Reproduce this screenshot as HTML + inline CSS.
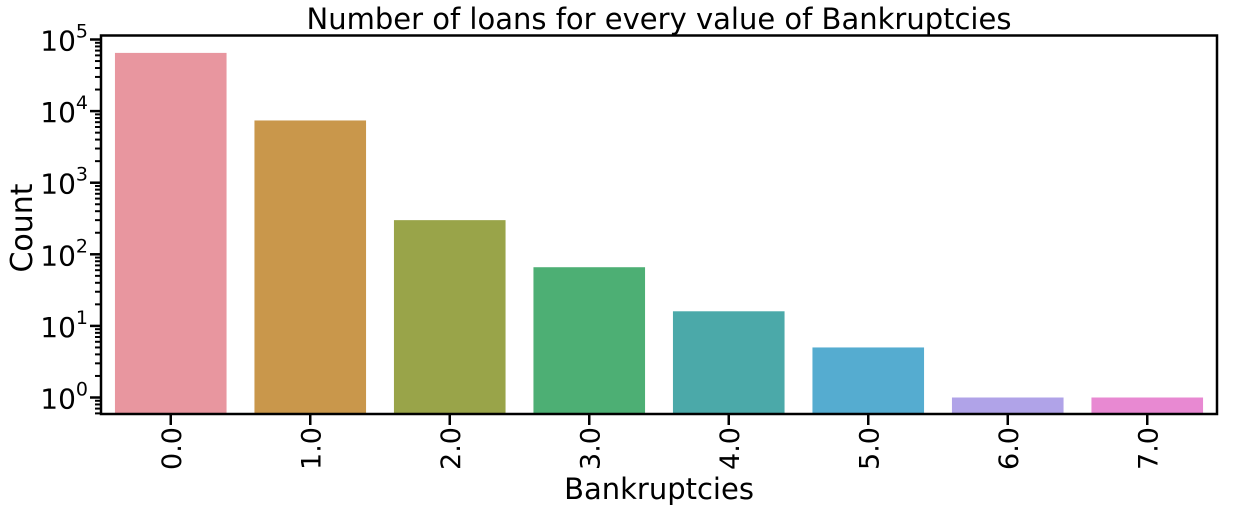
<!DOCTYPE html>
<html><head><meta charset="utf-8"><style>body{margin:0;background:#fff}svg{display:block}</style></head>
<body>
<svg id="chart" width="1236" height="512" xmlns="http://www.w3.org/2000/svg" font-family="'DejaVu Sans','Liberation Sans',sans-serif">
<text x="659" y="29" font-size="29" text-anchor="middle">Number of loans for every value of Bankruptcies</text>
<text x="659" y="499" font-size="29" text-anchor="middle">Bankruptcies</text>
<text transform="translate(32,228) rotate(-90)" font-size="30" text-anchor="middle">Count</text>
<g id="bars"></g><g id="axes"></g>
</svg>
<script>
const categories=["0.0","1.0","2.0","3.0","4.0","5.0","6.0","7.0"];
const counts=[65000,7400,300,66,16,5,1,1];
const colors=["#e8969f","#c9974b","#99a449","#4daf74","#4ba9a9","#55acd0","#b0a3e8","#e889d2"];
const yTickExps=[0,1,2,3,4,5];
const L=101,R=1217,T=35.5,B=414;
const y0=397.5,dec=71.6;
function y(v){return y0-Math.log10(v)*dec;}
const bw=(R-L)/categories.length;
function x(i){return L+bw*(i+0.5);}
const NS="http://www.w3.org/2000/svg";
function mk(t,a,p){const e=document.createElementNS(NS,t);for(const k in a)e.setAttribute(k,a[k]);p.appendChild(e);return e;}
const gb=document.getElementById('bars'),ga=document.getElementById('axes');
counts.forEach((c,i)=>{const w=bw*0.8;const r=mk('rect',{x:x(i)-w/2,y:y(c),width:w,height:B-y(c),fill:colors[i]},gb);


const tk=mk('line',{x1:x(i),x2:x(i),y1:B,y2:B+11,stroke:'#000','stroke-width':2.5},ga);


const tl=mk('text',{transform:`translate(${x(i)+10},${B+13}) rotate(-90)`,'font-size':27,'text-anchor':'end'},ga);tl.textContent=categories[i];

});
yTickExps.forEach(e=>{const yy=y(Math.pow(10,e));
const tk=mk('line',{x1:L-11,x2:L,y1:yy,y2:yy,stroke:'#000','stroke-width':2.5},ga);


const tl=mk('text',{x:L-13,y:yy+11,'font-size':28,'text-anchor':'end'},ga);
tl.innerHTML='10<tspan dy="-13" font-size="19">'+e+'</tspan>';

});
for(let e=-1;e<=5;e++)for(let m=2;m<=9;m++){const yy=y(m*Math.pow(10,e));if(yy<T||yy>B)continue;
const tk=mk('line',{x1:L-6,x2:L,y1:yy,y2:yy,stroke:'#000','stroke-width':2},ga);

}
const fr=mk('rect',{x:L,y:T,width:R-L,height:B-T,fill:'none',stroke:'#000','stroke-width':2.5},ga);


</script>
</body></html>
